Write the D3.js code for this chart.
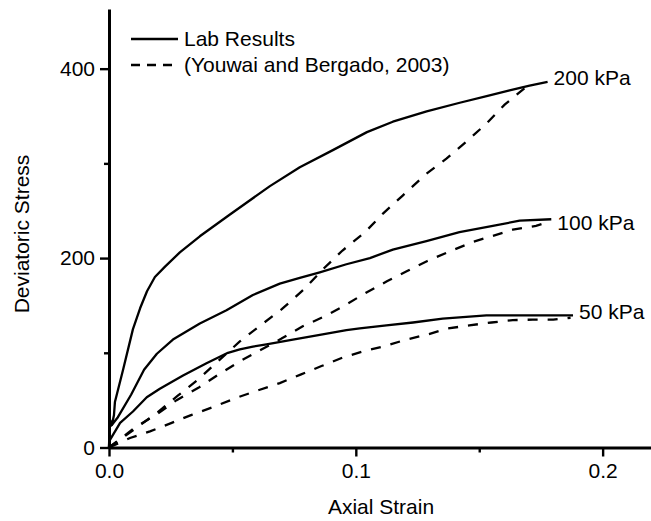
<!DOCTYPE html>
<html>
<head>
<meta charset="utf-8">
<script src="https://cdn.jsdelivr.net/npm/d3@7"></script>
<style>
  html, body { margin: 0; padding: 0; background: #fff; }
  svg text { font-family: "Liberation Sans", Arial, Helvetica, sans-serif; fill: #000; }
</style>
</head>
<body>
<svg id="chart" width="651" height="521"></svg>
<script>
// Triaxial test curves: [axial strain, deviatoric stress (kPa)]
const lab200 = [[0,0],[0.0003,30],[0.0012,24],[0.0020,34],[0.0024,48],[0.0057,82],[0.0097,125],[0.0126,147],
  [0.0154,165],[0.0186,180],[0.0227,191],[0.0287,206],[0.0368,223],[0.049,246],[0.0652,276],
  [0.0773,296],[0.0907,314],[0.1045,333],[0.115,344],[0.1287,355],[0.1421,364],[0.153,371],[0.1623,377],
  [0.1704,382],[0.1777,386]];
const lab100 = [[0,0],[0.0003,22],[0.0012,24],[0.0036,32],[0.0090,56],[0.0142,82],[0.0194,99],[0.0259,114],
  [0.0368,131],[0.0476,145],[0.0583,161],[0.0692,173],[0.0773,179],[0.0854,185],[0.0962,193.5],[0.1057,200],
  [0.115,209],[0.1286,218],[0.142,227.5],[0.1555,234],[0.1664,239.5],[0.1792,241]];
const lab50 = [[0,0],[0.0004,8],[0.0045,26],[0.0097,38],[0.0153,53],[0.0206,62],[0.030,76],[0.0395,89],
  [0.0482,100],[0.053,103.5],[0.0583,106.5],[0.0638,109],[0.0745,114],[0.0854,119],[0.0962,124],
  [0.1016,125.7],[0.1124,129],[0.1232,132],[0.1352,136],[0.1529,139.5],[0.169,139.5],[0.188,139.5]];

const model200 = [[0,0],[0.0112,21],[0.0196,37],[0.028,55],[0.0362,72],[0.053,112],[0.0614,129],[0.070,146],
  [0.079,167],[0.087,189],[0.0946,208],[0.1036,227],[0.111,247],[0.119,266],[0.1286,289],[0.1367,305],
  [0.1448,323],[0.1529,342],[0.1603,362],[0.171,385]];
const model100 = [[0,0],[0.0105,21],[0.0193,35],[0.0274,50],[0.0362,63],[0.0443,77],[0.053,91],[0.0614,103],
  [0.0699,115],[0.0785,128],[0.0874,138.5],[0.0955,150],[0.1045,164],[0.1126,175.5],[0.1206,186],[0.129,197],
  [0.138,207],[0.1474,217],[0.1636,230],[0.173,234],[0.178,238]];
const model50 = [[0,0],[0.0085,10],[0.0166,17],[0.0254,26],[0.0335,34.5],[0.0425,43],[0.0522,53],[0.0611,61],
  [0.0692,68],[0.0776,77],[0.0861,86],[0.0947,95],[0.1036,102],[0.1117,107],[0.1205,114],[0.1286,119],
  [0.137,125.5],[0.146,129],[0.155,132],[0.1636,134.5],[0.1717,135],[0.18,135],[0.187,137]];

const pressureLabels = ["200 kPa", "100 kPa", "50 kPa"];
const legendLabels = ["Lab Results", "(Youwai and Bergado, 2003)"];
const xMajor = [0, 0.1, 0.2], xMinor = [0.05, 0.15];
const yMajor = [0, 200, 400], yMinor = [100, 300];

const FONT = 21;
const svg = d3.select("#chart");
const x = d3.scaleLinear().domain([0, 0.22]).range([109, 652]);
const y = d3.scaleLinear().domain([0, 463]).range([447.5, 9]);

// axes: long outward major ticks, short minor ticks
function styleAxis(g) {
  g.selectAll("path.domain").attr("stroke", "#000").attr("stroke-width", 3);
  g.selectAll(".tick line").attr("stroke", "#000").attr("stroke-width", 2.4);
  g.selectAll(".tick text").attr("font-size", FONT).attr("font-family", "Liberation Sans, Arial, sans-serif");
}
const gx = svg.append("g").attr("transform", `translate(0,${y(0)})`)
  .call(d3.axisBottom(x).tickValues(xMajor).tickSize(9).tickSizeOuter(0).tickPadding(7).tickFormat(d3.format(".1f")));
styleAxis(gx);
gx.append("g").call(d3.axisBottom(x).tickValues(xMinor).tickSize(5).tickFormat("")).call(g => g.select(".domain").remove()).call(styleAxis);

const gy = svg.append("g").attr("transform", `translate(${x(0)},0)`)
  .call(d3.axisLeft(y).tickValues(yMajor).tickSize(9).tickSizeOuter(0).tickPadding(5).tickFormat(d3.format("d")));
styleAxis(gy);
gy.append("g").call(d3.axisLeft(y).tickValues(yMinor).tickSize(5).tickFormat("")).call(g => g.select(".domain").remove()).call(styleAxis);

// axis titles
svg.append("text").attr("x", 381).attr("y", 514).attr("text-anchor", "middle")
  .attr("font-size", FONT).text("Axial Strain");
svg.append("text").attr("transform", "translate(29,234) rotate(-90)").attr("text-anchor", "middle")
  .attr("font-size", FONT).text("Deviatoric Stress");

const line = d3.line().x(d => x(d[0])).y(d => y(d[1]));
const plot = svg.append("g").attr("fill", "none").attr("stroke", "#000");

[model200, model100, model50].forEach(s => {
  plot.append("path").datum(s).attr("d", line).attr("stroke-width", 2.3).attr("stroke-dasharray", "10,10");
});
[lab200, lab100, lab50].forEach(s => {
  plot.append("path").datum(s).attr("d", line).attr("stroke-width", 2.3).attr("stroke-linejoin", "round");
});

// confining pressure labels at the end of each lab curve
const labelShift = [3, 11, 4];
[lab200, lab100, lab50].forEach((s, i) => {
  const end = s[s.length - 1];
  svg.append("text").attr("x", x(end[0]) + 6).attr("y", y(end[1]) + labelShift[i])
    .attr("font-size", FONT).text(pressureLabels[i]);
});

// legend
const lg = svg.append("g");
const legendY = [39, 65];
legendLabels.forEach((t, i) => {
  lg.append("line").attr("x1", 131).attr("x2", 178).attr("y1", legendY[i]).attr("y2", legendY[i])
    .attr("stroke", "#000").attr("stroke-width", 2.3)
    .attr("stroke-dasharray", i === 1 ? "9,7" : null);
  lg.append("text").attr("x", 184).attr("y", legendY[i] + 7)
    .attr("font-size", FONT).text(t);
});
</script>
</body>
</html>
